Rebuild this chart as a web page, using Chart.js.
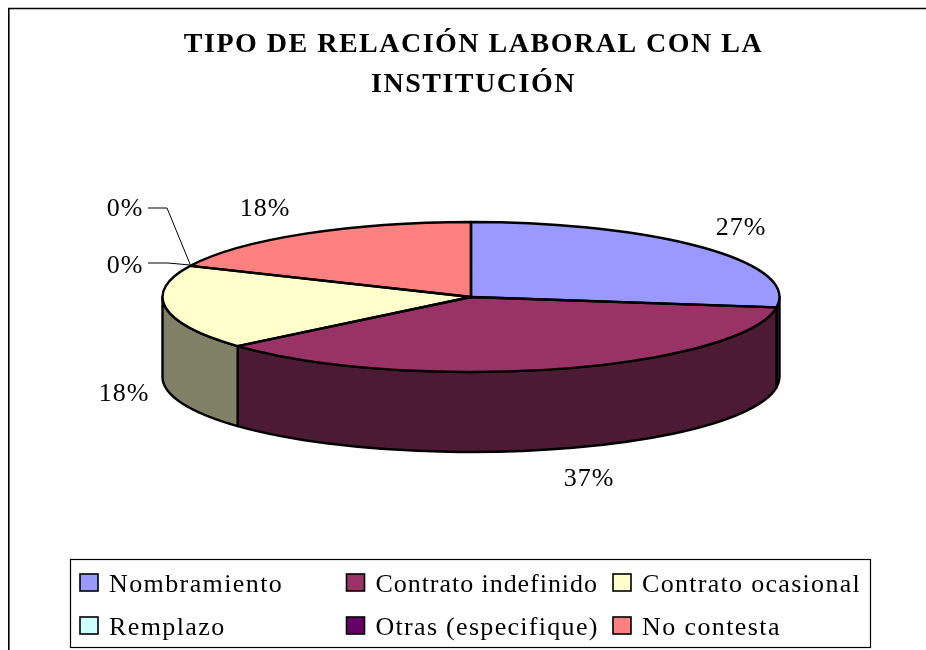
<!DOCTYPE html>
<html><head><meta charset="utf-8">
<style>html,body{margin:0;padding:0;background:#fff;overflow:hidden}#wrap{position:relative;width:926px;height:650px}</style>
<script src="https://cdn.jsdelivr.net/npm/chart.js@4"></script>
</head><body><div id="wrap"><canvas id="c" width="926" height="650"></canvas></div>
<script>
const titleLines = ['TIPO DE RELACIÓN LABORAL CON LA', 'INSTITUCIÓN'];
const categories = ['Nombramiento', 'Contrato indefinido', 'Contrato ocasional', 'Remplazo', 'Otras (especifique)', 'No contesta'];
const values = [27.2, 36.45, 18.15, 0, 0, 18.2];
const sliceColors = ['#9999FF', '#993366', '#FFFFCC', '#CCFFFF', '#660066', '#FF8080'];
const wallColors = ['#4D4D80', '#4D1A33', '#808066', '#668080', '#330033', '#804040'];
const percentLabels = ['27%', '37%', '18%', '0%', '0%', '18%'];

const FONT = '"Liberation Serif", serif';
const PIE = {cx: 471, cy: 297, rx: 308.5, ry: 75, depth: 80};
const labelPos = [[741,228],[589,479],[124,394],[125,266],[125,209],[265,209]];
const legendBox = {x: 70.5, y: 559.5, w: 800, h: 88};
const legendCols = [80, 346.5, 613];
const legendRows = [574, 617];
const legendSpacing = [1.4, 0.95, 1.3, 1.4, 1.3, 1.4];

const pie3d = {
  id: 'pie3d',
  beforeDraw(chart) {
    const ctx = chart.ctx;
    ctx.letterSpacing = '1.5px';
    ctx.save();
    ctx.fillStyle = '#fff';
    ctx.fillRect(0, 0, 926, 650);
    ctx.strokeStyle = '#000';
    ctx.lineWidth = 1.6;
    ctx.beginPath();
    ctx.moveTo(8.8, 650); ctx.lineTo(8.8, 8.5); ctx.lineTo(926, 8.5);
    ctx.stroke();
    ctx.restore();
  },
  beforeDatasetsDraw(chart) {
    const ctx = chart.ctx;
    const arcs = chart.getDatasetMeta(0).data;
    const {cx, cy, rx, ry, depth} = PIE;
    ctx.save();
    ctx.lineWidth = 2.4;
    ctx.lineJoin = 'round';
    ctx.strokeStyle = '#000';
    arcs.forEach((arc, i) => {
      const a = Math.max(arc.startAngle, 0), b = Math.min(arc.endAngle, Math.PI);
      if (b <= a) return;
      ctx.beginPath();
      ctx.ellipse(cx, cy, rx, ry, 0, a, b);
      ctx.ellipse(cx, cy + depth, rx, ry, 0, b, a, true);
      ctx.closePath();
      ctx.fillStyle = wallColors[i];
      ctx.fill();
      ctx.stroke();
    });
    ctx.restore();
    // squash the library's own pie into the perspective ellipse
    const c = arcs[0];
    ctx.save();
    ctx.translate(cx, cy);
    ctx.scale(1, ry / rx);
    ctx.translate(-c.x, -c.y);
  },
  afterDatasetsDraw(chart) {
    const ctx = chart.ctx;
    ctx.restore();
    const arcs = chart.getDatasetMeta(0).data;
    const {cx, cy, rx, ry} = PIE;
    ctx.save();
    ctx.lineWidth = 2.4;
    ctx.lineJoin = 'round';
    ctx.strokeStyle = '#000';
    arcs.forEach(arc => {
      if (arc.endAngle - arc.startAngle < 1e-4) return;
      ctx.beginPath();
      ctx.moveTo(cx, cy);
      ctx.ellipse(cx, cy, rx, ry, 0, arc.startAngle, arc.endAngle);
      ctx.closePath();
      ctx.stroke();
    });
    ctx.restore();
  },
  afterDraw(chart) {
    const ctx = chart.ctx;
    ctx.save();
    ctx.textBaseline = 'middle';
    ctx.fillStyle = '#000';
    // percent labels
    ctx.font = '26px ' + FONT;
    ctx.letterSpacing = '1px';
    ctx.textAlign = 'center';
    percentLabels.forEach((t, i) => ctx.fillText(t, labelPos[i][0], labelPos[i][1]));
    // leader lines of the two 0% labels
    ctx.strokeStyle = '#000';
    ctx.lineWidth = 1;
    ctx.beginPath();
    ctx.moveTo(148, 208); ctx.lineTo(167, 208); ctx.lineTo(190, 264);
    ctx.moveTo(148, 263); ctx.lineTo(168, 263); ctx.lineTo(190, 265);
    ctx.stroke();
    // legend
    ctx.lineWidth = 1.2;
    ctx.strokeStyle = '#000';
    ctx.strokeRect(legendBox.x, legendBox.y, legendBox.w, legendBox.h);
    ctx.textAlign = 'left';
    categories.forEach((name, i) => {
      const col = i % 3, row = Math.floor(i / 3);
      const x = legendCols[col], y = legendRows[row];
      ctx.fillStyle = sliceColors[i];
      ctx.lineWidth = 1.6;
      ctx.fillRect(x, y, 18, 17);
      ctx.strokeRect(x, y, 18, 17);
      ctx.fillStyle = '#000';
      ctx.letterSpacing = legendSpacing[i] + 'px';
      ctx.fillText(name, x + 29, y + 11);
    });
    ctx.restore();
  }
};

new Chart(document.getElementById('c'), {
  type: 'pie',
  data: {
    labels: categories,
    datasets: [{data: values, backgroundColor: sliceColors, borderWidth: 0, clip: false}]
  },
  options: {
    responsive: false,
    animation: false,
    events: [],
    radius: PIE.rx,
    layout: {padding: {left: 21, right: 0, top: 0, bottom: 0}},
    plugins: {
      legend: {display: false},
      tooltip: {enabled: false},
      title: {
        display: true,
        text: titleLines,
        color: '#000',
        font: {family: FONT, size: 28, weight: 'bold', lineHeight: 1.43},
        padding: {top: 25, bottom: 0}
      }
    }
  },
  plugins: [pie3d]
});
</script></body></html>
